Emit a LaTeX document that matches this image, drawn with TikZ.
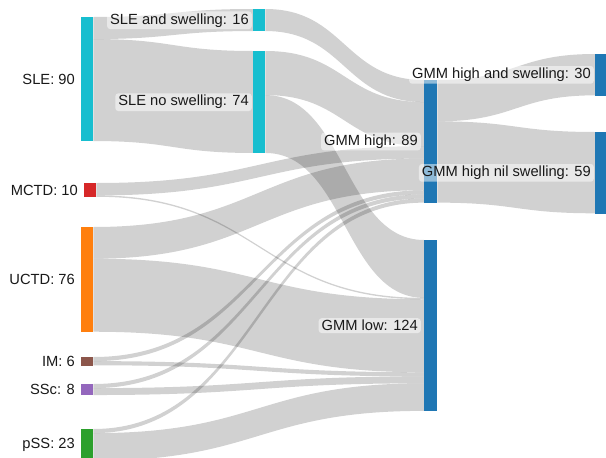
\documentclass[tikz,border=0pt]{standalone}
\usepackage{fontspec}
\setmainfont{Liberation Sans}
\usetikzlibrary{ positioning, % For easy node-relative placements
                 calc,        % For the mid points of the links
               }

\definecolor{sle}{HTML}{17BECF}
\definecolor{mctd}{HTML}{D62728}
\definecolor{uctd}{HTML}{FF7F0E}
\definecolor{im}{HTML}{8C564B}
\definecolor{ssc}{HTML}{9467BD}
\definecolor{pss}{HTML}{2CA02C}
\definecolor{gmm}{HTML}{1F77B4}

\newcommand{\pxunit}{1.378} % pixels per patient

% source, offset at source, target, offset at target, value
\newcommand{\flow}[5]{%
  \pgfmathsetmacro{\flowsa}{-#2*\pxunit}
  \pgfmathsetmacro{\flowsb}{-(#2+#5)*\pxunit}
  \pgfmathsetmacro{\flowta}{-#4*\pxunit}
  \pgfmathsetmacro{\flowtb}{-(#4+#5)*\pxunit}
  \coordinate (s0) at ([yshift=\flowsa pt]#1.north east);
  \coordinate (s1) at ([yshift=\flowsb pt]#1.north east);
  \coordinate (t0) at ([yshift=\flowta pt]#3.north west);
  \coordinate (t1) at ([yshift=\flowtb pt]#3.north west);
  \coordinate (m) at ($(s0)!0.5!(t0)$);
  \fill[link] (s0) .. controls (s0 -| m) and (t0 -| m) .. (t0) -- (t1)
    .. controls (t1 -| m) and (s1 -| m) .. (s1) -- cycle;
}

\tikzset{
  bar/.style={inner sep=0pt, minimum width=12pt, anchor=north west},
  val/.style={minimum height=#1*1.378pt},
  lbl/.style={fill=white, fill opacity=0.5, text opacity=1, rounded corners=3pt,
              inner xsep=3pt, inner ysep=2pt, text=black!90,
              font=\fontsize{14.7}{18}\selectfont},
  link/.style={fill=black, fill opacity=0.18},
}

\begin{document}
\begin{tikzpicture}[x=1pt, y=-1pt]
  \clip (0,0) rectangle (606,458);

  % bars (filled after the links)
  \path (81,17) node[bar, val=90] (sle) {};
  \path (84,183) node[bar, val=10] (mctd) {};
  \path (81,227) node[bar, val=76] (uctd) {};
  \path (81,357) node[bar, val=6] (im) {};
  \path (81,384) node[bar, val=8] (ssc) {};
  \path (81,429) node[bar, val=23] (pss) {};

  \path (253,9) node[bar, val=16] (sle_sw) {};
  \path (253,51) node[bar, val=74] (sle_nosw) {};

  \path (424,80) node[bar, val=89, minimum width=13pt] (gmm_high) {};
  \path (424,240) node[bar, val=124, minimum width=13pt] (gmm_low) {};

  \path (595,54) node[bar, val=30] (gmm_hsw) {};
  \path (595,132) node[bar, val=59] (gmm_hnil) {};

  % links
  \flow{sle}{0}{sle_sw}{0}{16}
  \flow{sle}{16}{sle_nosw}{0}{74}
  \flow{sle_sw}{0}{gmm_high}{0}{16}
  \flow{sle_nosw}{0}{gmm_high}{16}{32}
  \flow{sle_nosw}{32}{gmm_low}{0}{42}
  \flow{mctd}{0}{gmm_high}{48}{9}
  \flow{mctd}{9}{gmm_low}{42}{1}
  \flow{uctd}{0}{gmm_high}{57}{23}
  \flow{uctd}{23}{gmm_low}{43}{53}
  \flow{im}{0}{gmm_high}{80}{3}
  \flow{im}{3}{gmm_low}{96}{3}
  \flow{ssc}{0}{gmm_high}{83}{3}
  \flow{ssc}{3}{gmm_low}{99}{5}
  \flow{pss}{0}{gmm_high}{86}{3}
  \flow{pss}{3}{gmm_low}{104}{20}
  \flow{gmm_high}{0}{gmm_hsw}{0}{30}
  \flow{gmm_high}{30}{gmm_hnil}{0}{59}

  \foreach \b/\c in {sle/sle, mctd/mctd, uctd/uctd, im/im, ssc/ssc, pss/pss,
                     sle_sw/sle, sle_nosw/sle, gmm_high/gmm, gmm_low/gmm,
                     gmm_hsw/gmm, gmm_hnil/gmm}
    \fill[\c] (\b.north west) rectangle (\b.south east);

  % labels
  \node[lbl, left=3pt of sle] (sle_l) {SLE: 90};
  \node[lbl, left=3pt of mctd] (mctd_l) {MCTD: 10};
  \node[lbl, left=3pt of uctd] (uctd_l) {UCTD: 76};
  \node[lbl, left=3pt of im] (im_l) {IM: 6};
  \node[lbl, left=3pt of ssc] (ssc_l) {SSc: 8};
  \node[lbl, left=3pt of pss] (pss_l) {pSS: 23};
  \node[lbl, left=1pt of sle_sw] (sle_sw_l) {SLE and swelling: 16};
  \node[lbl, left=1pt of sle_nosw] (sle_nosw_l) {SLE no swelling: 74};
  \node[lbl, left=3pt of gmm_high] (gmm_high_l) {GMM high: 89};
  \node[lbl, left=3pt of gmm_low] (gmm_low_l) {GMM low: 124};
  \node[lbl, left=1pt of gmm_hsw] (gmm_hsw_l) {GMM high and swelling: 30};
  \node[lbl, left=1pt of gmm_hnil] (gmm_hnil_l) {GMM high nil swelling: 59};
\end{tikzpicture}
\end{document}
